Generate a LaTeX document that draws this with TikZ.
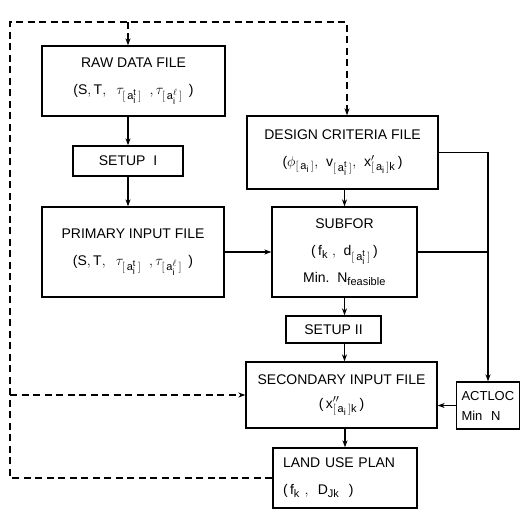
\documentclass[tikz,border=0pt]{standalone}
\usepackage{fontspec}
\setmainfont{Liberation Sans}
\setsansfont{Liberation Sans}
\usetikzlibrary{arrows.meta,calc}
\DeclareMathSizes{14}{14}{11}{9}
\newcommand\ai[1]{[\,\mathsf{a}_{\mathsf{i}}^{#1}\,]}
\newcommand\aik{[\,\mathsf{a}_{\mathsf{i}}\,]\mathsf{k}}
\begin{document}
\begin{tikzpicture}[x=1pt,y=-1pt,
  box/.style={draw,line width=1.3pt,rectangle,inner sep=2pt,align=center,
    font=\fontsize{14}{27}\selectfont},
  arr/.style={line width=1.2pt,-{Stealth[length=7pt,width=5pt]}},
  ln/.style={line width=1.2pt},
  dsh/.style={line width=1.2pt,dash pattern=on 7pt off 4.5pt},
  darr/.style={dsh,-{Stealth[length=7pt,width=5pt]}}]
\useasboundingbox[fill=white] (0,0) rectangle (521,510);
\node[box,minimum width=183pt,minimum height=70pt] (raw) at (133.5,81)
  {RAW DATA FILE\\($\mathsf{S,T},\ \ \tau_{\ai{\mathsf{t}}}\ \ ,\tau_{\ai{\ell}}$\ \,)};
\node[box,minimum width=110pt,minimum height=30pt] (setupI) at (128,161) {SETUP\ \ I};
\node[box,minimum width=182pt,minimum height=90pt] (primary) at (133,252)
  {PRIMARY INPUT FILE\\($\mathsf{S,T},\ \ \tau_{\ai{\mathsf{t}}}\ \ ,\tau_{\ai{\ell}}$\ \,)};
\node[box,minimum width=191pt,minimum height=73pt] (design) at (342.5,152.5)
  {DESIGN CRITERIA FILE\\($\phi_{[\,\mathsf{a}_{\mathsf{i}}\,]}\mathsf{,}\ \ \mathsf{v}_{\ai{\mathsf{t}}}\mathsf{,}\ \ \mathsf{x}'_{\aik}$\,)};
\node[box,minimum width=145pt,minimum height=90pt] (subfor) at (344.5,252)
  {SUBFOR\\($\,\mathsf{f}_{\mathsf{k}}\ \mathsf{,}\ \ \mathsf{d}_{\ai{\mathsf{t}}}$\,)\\Min.\ \ $\mathsf{N}_{\mathsf{feasible}}$};
\node[box,minimum width=95pt,minimum height=27pt] (setupII) at (333.5,329.5) {SETUP II};
\node[box,minimum width=191pt,minimum height=66pt,font=\fontsize{14}{24}\selectfont] (secondary) at (341.5,395)
  {SECONDARY INPUT FILE\\($\,\mathsf{x}''_{\aik}$\,)};
\node[box,minimum height=47pt,text width=53pt,inner xsep=5pt,align=left,font=\fontsize{13}{20}\selectfont] (actloc) at (488,405.5)
  {ACTLOC\\Min\ \ N};
\node[box,minimum height=60pt,text width=124pt,inner xsep=10pt,align=left] (land) at (345,478)
  {LAND USE PLAN\\($\,\mathsf{f}_{\mathsf{k}}\ \mathsf{,}\ \ \mathsf{D}_{\mathsf{Jk}}$\ \ )};
% solid connectors
\draw[arr] (setupI.north |- raw.south) -- (setupI.north);
\draw[arr] (setupI.south) -- (setupI.south |- primary.north);
\draw[arr] (primary.east) -- (subfor.west);
\draw[arr] (design.south -| subfor.north) -- (subfor.north);
\draw[arr] (subfor.south) -- (subfor.south |- setupII.north);
\draw[arr] (setupII.south -| subfor.south) -- (secondary.north -| subfor.south);
\draw[arr] (secondary.south -| land.north) -- (land.north);
\draw[arr] (design.east) -| (actloc.north);
\draw[ln] (subfor.east) -- (subfor.east -| actloc.north);
\draw[arr] (actloc.west) -- (actloc.west -| secondary.east);
% dashed feedback
\coordinate (tl) at (10,22);
\coordinate (tr) at (347,22);
\draw[darr] (land.west) -| (tl) -- (tr) -- (design.north -| tr);
\draw[darr] (setupI.north |- tl) -- (setupI.north |- raw.north);
\draw[darr] (secondary.west -| tl) -- (secondary.west);
\end{tikzpicture}
\end{document}
